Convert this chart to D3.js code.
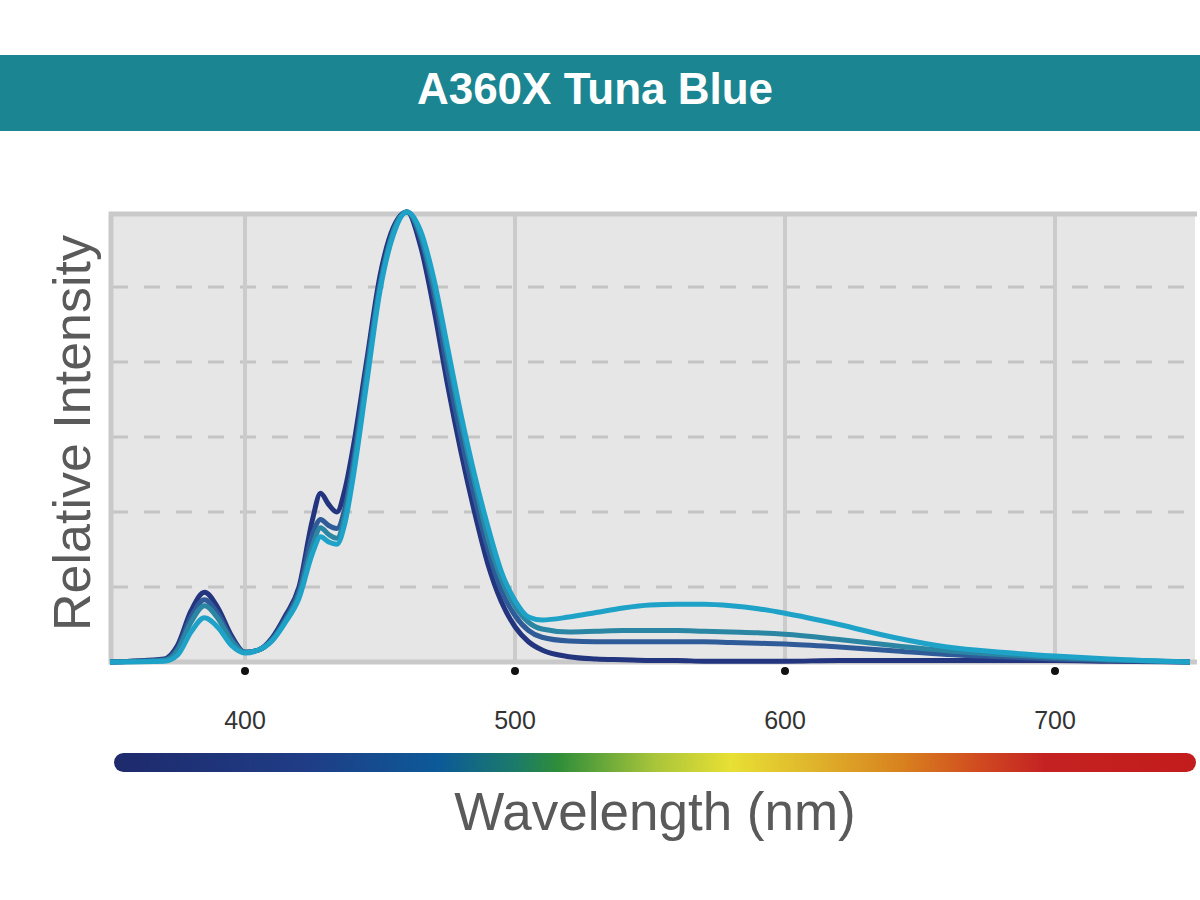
<!DOCTYPE html>
<html>
<head>
<meta charset="utf-8">
<script src="https://cdn.jsdelivr.net/npm/d3@7"></script>
<style>
  body { margin: 0; background: #fff; }
  text { font-family: "Liberation Sans", Arial, sans-serif; }
</style>
</head>
<body>
<div id="viz"></div>
<script>
// data (relative units, peak = 6)
const wavelengths = [350,370,375,380,385,390,395,400,405,410,415,420,425,428,431,434,437,440,445,450,455,460,465,470,475,480,485,490,495,500,505,510,520,530,540,550,560,570,580,590,600,620,640,660,680,700,720,750];

const navy = [0,0.04,0.22,0.68,0.93,0.72,0.35,0.13,0.16,0.32,0.62,1.0,1.9,2.25,2.1,2.0,2.3,2.85,4.0,5.15,5.8,6.0,5.55,4.7,3.7,2.8,2.0,1.3,0.8,0.47,0.27,0.16,0.07,0.04,0.03,0.02,0.02,0.01,0.01,0.01,0.01,0.02,0.02,0.02,0.02,0.02,0.01,0];
const blue = [0,0.03,0.18,0.6,0.83,0.64,0.31,0.13,0.16,0.3,0.58,0.95,1.7,1.9,1.82,1.78,2.05,2.65,3.9,5.05,5.75,6.0,5.65,4.9,3.9,3.0,2.2,1.5,0.95,0.62,0.42,0.33,0.28,0.27,0.27,0.27,0.27,0.27,0.26,0.25,0.24,0.2,0.15,0.1,0.07,0.04,0.02,0];
const teal = [0,0.02,0.15,0.53,0.75,0.58,0.28,0.13,0.16,0.29,0.55,0.9,1.55,1.79,1.7,1.65,1.95,2.55,3.8,5.0,5.75,6.0,5.7,5.0,4.1,3.2,2.4,1.65,1.1,0.74,0.53,0.44,0.4,0.41,0.42,0.42,0.42,0.41,0.4,0.39,0.37,0.3,0.22,0.15,0.1,0.06,0.03,0];
const cyan = [0,0.01,0.09,0.4,0.59,0.46,0.22,0.12,0.16,0.28,0.53,0.85,1.45,1.67,1.6,1.57,1.85,2.45,3.7,4.95,5.7,6.0,5.75,5.1,4.2,3.3,2.5,1.8,1.2,0.82,0.6,0.56,0.6,0.66,0.72,0.76,0.77,0.77,0.75,0.71,0.65,0.5,0.33,0.2,0.13,0.08,0.04,0];

const seriesValues = [navy, blue, teal, cyan];
const seriesColors = ["#23357f","#2f5b98","#2a86a3","#1ea2c8"];
const xTicks = [400,500,600,700];
const yGrid = [1,2,3,4,5];

const svg = d3.select("#viz").append("svg")
    .attr("width", 1200).attr("height", 900);

// title band
svg.append("rect").attr("x", 0).attr("y", 55).attr("width", 1200).attr("height", 76)
    .attr("fill", "#1b8591");
svg.append("text").attr("x", 595).attr("y", 104).attr("text-anchor", "middle")
    .attr("fill", "#fff").attr("font-size", 44).attr("font-weight", "bold")
    .text("A360X Tuna Blue");

const x = d3.scaleLinear().domain([350, 750]).range([110, 1190]);
const y = d3.scaleLinear().domain([0, 6]).range([662, 212]);

// plot background
svg.append("rect").attr("x", 110).attr("y", 212).attr("width", 1085).attr("height", 450)
    .attr("fill", "#e6e6e6");

// gridlines
svg.append("g").selectAll("line").data(yGrid).join("line")
    .attr("x1", 112).attr("x2", 1195)
    .attr("y1", d => y(d)).attr("y2", d => y(d))
    .attr("stroke", "#c4c4c4").attr("stroke-width", 3).attr("stroke-dasharray", "16,16");
svg.append("g").selectAll("line").data(xTicks).join("line")
    .attr("x1", d => x(d)).attr("x2", d => x(d))
    .attr("y1", 212).attr("y2", 662)
    .attr("stroke", "#cbcbcb").attr("stroke-width", 4);

// frame: left, top, bottom
svg.append("path")
    .attr("d", "M1197,214 H111 V662 H1197")
    .attr("fill", "none").attr("stroke", "#c9c9c9").attr("stroke-width", 5);

// lines
const line = d3.line()
    .x((d, i) => x(wavelengths[i]))
    .y(d => y(d))
    .curve(d3.curveMonotoneX);

svg.append("g").selectAll("path").data(seriesValues).join("path")
    .attr("d", d => line(d))
    .attr("fill", "none")
    .attr("stroke", (d, i) => seriesColors[i])
    .attr("stroke-width", 5)
    .attr("stroke-linejoin", "round");

// tick dots and labels
svg.append("g").selectAll("circle").data(xTicks).join("circle")
    .attr("cx", d => x(d)).attr("cy", 671).attr("r", 4).attr("fill", "#111");
svg.append("g").selectAll("text").data(xTicks).join("text")
    .attr("x", d => x(d)).attr("y", 729).attr("text-anchor", "middle")
    .attr("font-size", 25).attr("fill", "#333")
    .text(d => d);

// spectrum bar
const grad = svg.append("defs").append("linearGradient").attr("id", "spec");
[["0", "#1e2a6c"], ["0.18", "#1f3d86"], ["0.3", "#0c5a98"], ["0.37", "#1b7a6a"], ["0.41", "#2e8d3a"],
 ["0.5", "#a9c53a"], ["0.57", "#e8e034"], ["0.64", "#e0b82c"], ["0.73", "#d8801e"], ["0.8", "#d04a20"],
 ["0.86", "#c42222"], ["1", "#c31c1c"]]
  .forEach(([o, c]) => grad.append("stop").attr("offset", o).attr("stop-color", c));
svg.append("rect").attr("x", 114).attr("y", 753).attr("width", 1082).attr("height", 19)
    .attr("rx", 9.5).attr("fill", "url(#spec)");

// axis titles
svg.append("text").attr("x", 655).attr("y", 830).attr("text-anchor", "middle")
    .attr("font-size", 53).attr("fill", "#5a5a5a").text("Wavelength (nm)");
svg.append("text").attr("transform", "translate(90,433) rotate(-90)")
    .attr("text-anchor", "middle").attr("font-size", 52).attr("fill", "#5a5a5a")
    .text("Relative Intensity");
</script>
</body>
</html>
